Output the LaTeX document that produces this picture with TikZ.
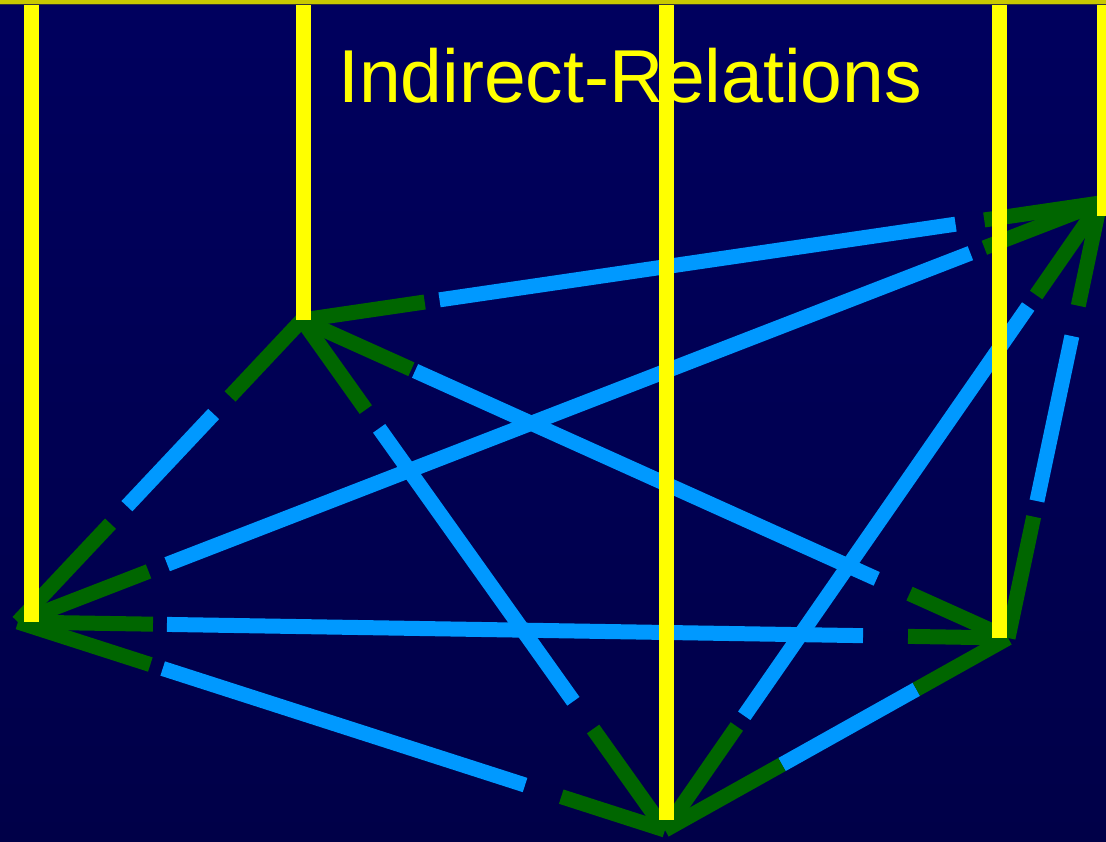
\documentclass[tikz,border=0pt]{standalone}
\usepackage{fontspec}
\setmainfont{Liberation Sans}
\usepackage{tikz}
\usetikzlibrary{calc}

\definecolor{slidebg}{RGB}{0,0,94}
\definecolor{slidebot}{RGB}{0,0,72}
\definecolor{relblue}{RGB}{0,153,255}
\definecolor{relgreen}{RGB}{0,102,0}
\definecolor{baryellow}{RGB}{255,255,0}
\definecolor{rimolive}{RGB}{200,200,0}

\begin{document}
\begin{tikzpicture}[
  x=1pt, y=-1pt,
  bar/.style={draw=baryellow, line width=15pt},
  grn/.style={draw=relgreen, line width=15pt},
  blu/.style={draw=relblue, line width=15pt},
  title/.style={text=baryellow, font=\fontsize{75}{80}\selectfont, inner sep=0pt}
]
\useasboundingbox (0,0) rectangle (1106,841);
\fill[top color=slidebg, bottom color=slidebot] (0,0) rectangle (1106,841);
\fill[rimolive] (0,0) rectangle (1106,3.5);
\fill[black!80] (0,3.5) rectangle (1106,5);

\node[title, anchor=base west] (head) at (338,102) {Indirect-Relations};

\coordinate (A) at (18,622);
\coordinate (B) at (302,320);
\coordinate (C) at (665,830);
\coordinate (D) at (1008,638);
\coordinate (E) at (1100,203);

% blue middle parts
\draw[blu, shorten <=159pt, shorten >=129pt] (A) -- (B);
\draw[blu, shorten <=160pt, shorten >=139pt] (A) -- (E);
\draw[blu, shorten <=149pt, shorten >=145pt] (A) -- (D);
\draw[blu, shorten <=152pt, shorten >=147pt] (A) -- (C);
\draw[blu, shorten <=139pt, shorten >=146pt] (B) -- (E);
\draw[blu, shorten <=124pt, shorten >=144pt] (B) -- (D);
\draw[blu, shorten <=133pt, shorten >=158pt] (B) -- (C);
\draw[blu, shorten <=139pt, shorten >=126pt] (C) -- (E);
\draw[blu, shorten <=134pt, shorten >=105pt] (C) -- (D);
\draw[blu, shorten <=140pt, shorten >=136pt] (D) -- (E);

% green ends
\draw[grn] (A) -- ($(A)!135pt!(B)$);
\draw[grn] (A) -- ($(A)!140pt!(E)$);
\draw[grn] (A) -- ($(A)!135pt!(D)$);
\draw[grn] (A) -- ($(A)!139pt!(C)$);
\draw[grn] (B) -- ($(B)!105pt!(A)$);
\draw[grn] (B) -- ($(B)!124pt!(E)$);
\draw[grn] (B) -- ($(B)!120pt!(D)$);
\draw[grn] (B) -- ($(B)!110pt!(C)$);
\draw[grn] (C) -- ($(C)!109pt!(A)$);
\draw[grn] (C) -- ($(C)!124pt!(B)$);
\draw[grn] (C) -- ($(C)!126pt!(E)$);
\draw[grn] (C) -- ($(C)!134pt!(D)$);
\draw[grn] (D) -- ($(D)!100pt!(A)$);
\draw[grn] (D) -- ($(D)!108pt!(B)$);
\draw[grn] (D) -- ($(D)!105pt!(C)$);
\draw[grn] (D) -- ($(D)!124pt!(E)$);
\draw[grn] (E) -- ($(E)!124pt!(A)$);
\draw[grn] (E) -- ($(E)!117pt!(B)$);
\draw[grn] (E) -- ($(E)!112pt!(C)$);
\draw[grn] (E) -- ($(E)!105pt!(D)$);

% yellow bars from the top rim
\coordinate (tA) at (31,5);
\coordinate (tB) at (303,5);
\coordinate (tC) at (666,5);
\coordinate (tD) at (999,5);
\coordinate (tE) at (1104,5);
\draw[bar] (tA) -- (tA |- A);
\draw[bar] (tB) -- (tB |- B);
\draw[bar, shorten >=10pt] (tC) -- (tC |- C);
\draw[bar] (tD) -- (tD |- D);
\draw[bar, shorten >=-13pt] (tE) -- (tE |- E);
\end{tikzpicture}
\end{document}
